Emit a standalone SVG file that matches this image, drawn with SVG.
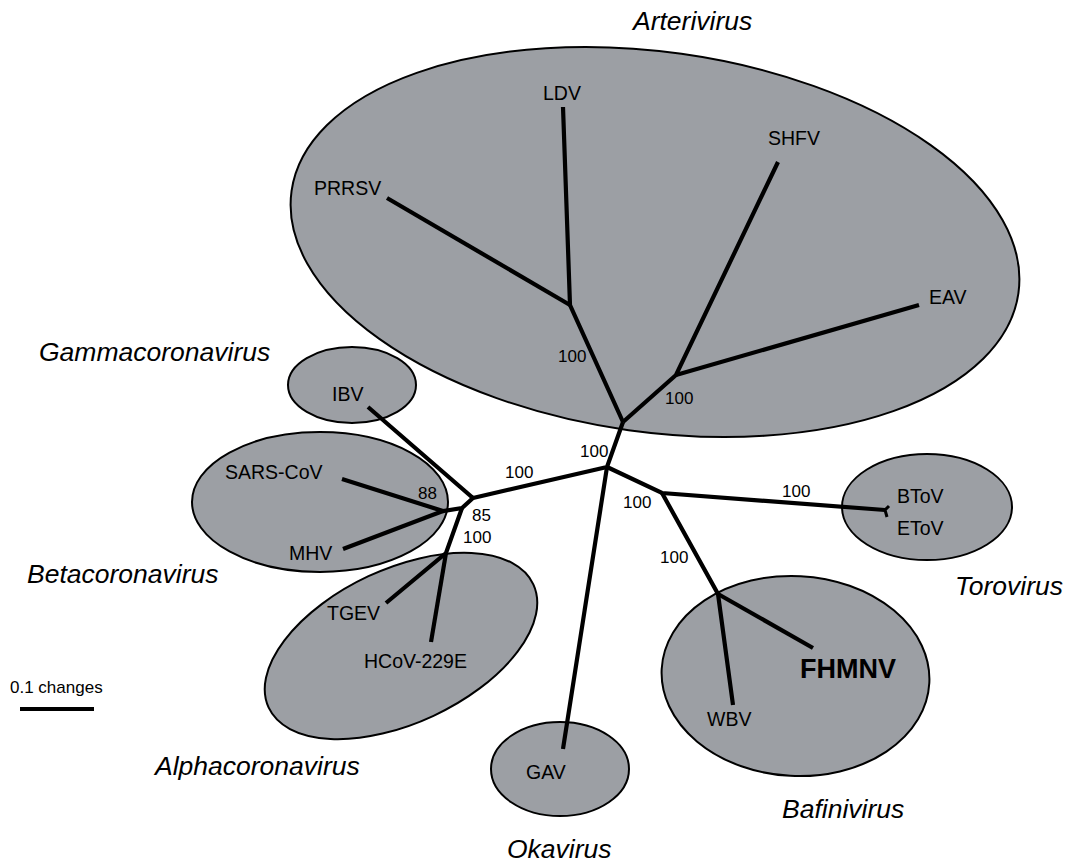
<svg xmlns="http://www.w3.org/2000/svg" width="1067" height="863" viewBox="0 0 1067 863">
<style>
.cl{fill:#9c9fa4;stroke:#000;stroke-width:2}
.br{stroke:#000;stroke-width:4.2;fill:none;stroke-linecap:butt;stroke-linejoin:miter}
.tx{font-family:"Liberation Sans",Arial,Helvetica,sans-serif;font-size:19.5px;fill:#000}
.bs{font-family:"Liberation Sans",Arial,Helvetica,sans-serif;font-size:17px;fill:#000}
.gn{font-family:"Liberation Sans",Arial,Helvetica,sans-serif;font-size:26.5px;font-style:italic;fill:#000}
</style>
<rect width="1067" height="863" fill="#fff"/>
<g id="clusters">
<ellipse id="arterivirus-cluster" class="cl" cx="655" cy="242" rx="367" ry="190" transform="rotate(8 655 242)"/>
<ellipse id="gamma-cluster" class="cl" cx="352" cy="385" rx="64" ry="38"/>
<ellipse id="beta-cluster" class="cl" cx="320" cy="502" rx="128" ry="70"/>
<ellipse id="alpha-cluster" class="cl" cx="401" cy="646" rx="146" ry="77" transform="rotate(-25 401 646)"/>
<ellipse id="oka-cluster" class="cl" cx="560" cy="769" rx="69" ry="47"/>
<ellipse id="bafini-cluster" class="cl" cx="795.5" cy="676" rx="134" ry="100" transform="rotate(3 795.5 676)"/>
<ellipse id="toro-cluster" class="cl" cx="927" cy="507" rx="85" ry="53"/>
</g>
<g id="connectors">
<path class="br" d="M623 422 L570 305 L563 107"/>
<path class="br" d="M570 305 L387 198"/>
<path class="br" d="M623 422 L676 375 L778 162"/>
<path class="br" d="M676 375 L919 305"/>
<path class="br" d="M623 422 L607 467 L473 498 L368 407"/>
<path class="br" d="M473 498 L462 508 L443 511 L342 479"/>
<path class="br" d="M443 511 L343 549"/>
<path class="br" d="M462 508 L446 553 L386 603"/>
<path class="br" d="M446 553 L431 642"/>
<path class="br" d="M607 467 L563 749"/>
<path class="br" d="M607 467 L662 493 L885 510"/>
<path class="br" style="stroke-width:3" d="M889 506 L885 510 L887 517"/>
<path class="br" d="M662 493 L718 594 L733 705"/>
<path class="br" d="M718 594 L813 648"/>
<path class="br" d="M20 709 L94 709"/>
</g>
<g id="node-PRRSV"><text class="tx" x="314" y="195">PRRSV</text></g>
<g id="node-LDV"><text class="tx" x="543" y="100">LDV</text></g>
<g id="node-SHFV"><text class="tx" x="768" y="145">SHFV</text></g>
<g id="node-EAV"><text class="tx" x="929" y="304">EAV</text></g>
<g id="node-IBV"><text class="tx" x="332" y="401">IBV</text></g>
<g id="node-SARS-CoV"><text class="tx" x="225" y="479">SARS-CoV</text></g>
<g id="node-MHV"><text class="tx" x="289" y="560">MHV</text></g>
<g id="node-TGEV"><text class="tx" x="327" y="620">TGEV</text></g>
<g id="node-HCoV-229E"><text class="tx" x="364" y="668">HCoV-229E</text></g>
<g id="node-GAV"><text class="tx" x="526" y="779">GAV</text></g>
<g id="node-BToV"><text class="tx" x="897" y="503">BToV</text></g>
<g id="node-EToV"><text class="tx" x="897" y="535">EToV</text></g>
<g id="node-FHMNV"><text class="tx" x="800" y="678" style="font-size:27px;font-weight:bold">FHMNV</text></g>
<g id="node-WBV"><text class="tx" x="707" y="726">WBV</text></g>
<g id="bootstrap">
<text class="bs" x="558" y="362">100</text>
<text class="bs" x="665" y="404">100</text>
<text class="bs" x="580" y="457">100</text>
<text class="bs" x="505" y="478">100</text>
<text class="bs" x="623" y="508">100</text>
<text class="bs" x="660" y="563">100</text>
<text class="bs" x="782" y="497">100</text>
<text class="bs" x="418" y="499">88</text>
<text class="bs" x="472" y="521">85</text>
<text class="bs" x="463" y="543">100</text>
</g>
<g id="genera">
<text class="gn" x="633" y="30">Arterivirus</text>
<text class="gn" x="39" y="361">Gammacoronavirus</text>
<text class="gn" x="27" y="583">Betacoronavirus</text>
<text class="gn" x="155" y="775">Alphacoronavirus</text>
<text class="gn" x="507" y="858">Okavirus</text>
<text class="gn" x="782" y="818">Bafinivirus</text>
<text class="gn" x="955" y="595">Torovirus</text>
</g>
<g id="scale"><text class="bs" x="10" y="693">0.1 changes</text></g>
</svg>
